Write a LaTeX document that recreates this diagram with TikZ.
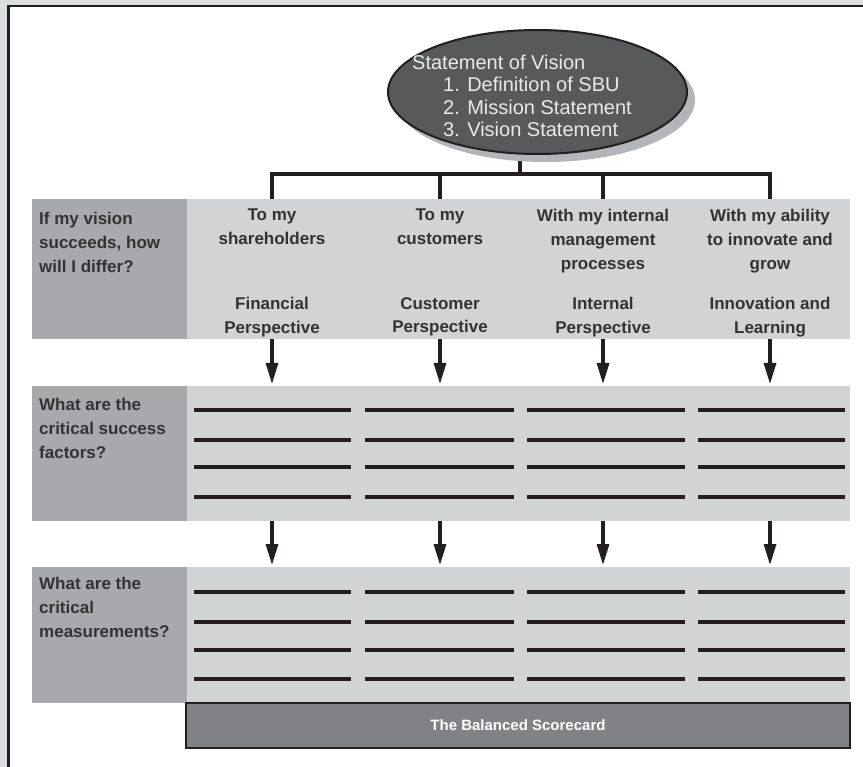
\documentclass[tikz,border=0pt]{standalone}
\usepackage{fontspec}
\setmainfont{Liberation Sans}
\usetikzlibrary{shapes.geometric,shadows,arrows.meta,positioning}

\definecolor{framebg}{HTML}{DCDDDE}
\definecolor{labelgray}{HTML}{A7A9AC}
\definecolor{cellgray}{HTML}{D1D3D4}
\definecolor{bargray}{HTML}{808285}
\definecolor{visiongray}{HTML}{58595B}
\definecolor{shadowgray}{HTML}{B3B5B8}
\definecolor{inkgray}{HTML}{231F20}
\definecolor{textgray}{HTML}{333333}
\definecolor{visiontxt}{HTML}{E8E9EA}

\newcommand\cellfont{\bfseries\fontsize{17}{23.8}\selectfont}

\tikzset{
  labelcell/.style={anchor=north west, fill=labelgray, minimum width=155pt, inner sep=0pt, outer sep=0pt},
  gridcell/.style={anchor=north west, fill=cellgray, minimum width=663pt, inner sep=0pt, outer sep=0pt},
  rowtext/.style={anchor=north west, align=left, font=\cellfont, text=textgray, inner sep=0pt},
  headtext/.style={anchor=north, align=center, font=\cellfont, text=textgray, inner sep=0pt},
  blank/.style={draw=inkgray, line width=3.2pt},
  tree/.style={draw=inkgray, line width=3.2pt},
  flow/.style={draw=inkgray, line width=3.2pt, shorten >=2pt, -{Triangle[length=21pt,width=12pt]}},
}

\begin{document}
\begin{tikzpicture}[x=1pt, y=-1pt]
    \useasboundingbox (0,0) rectangle (863,767);
    \clip (0,0) rectangle (863,767);
    \fill[framebg] (0,0) rectangle (863,767);
    \draw[inkgray, line width=2.8pt, fill=white] (8.7,6) rectangle (890,800);

    % rows
    \node[labelcell, minimum height=140pt] (lab1) at (32,199) {};
    \node[gridcell, minimum height=140pt] (cells1) at (187,199) {};
    \node[labelcell, minimum height=135pt] (lab2) at (32,386) {};
    \node[gridcell, minimum height=135pt] (cells2) at (187,386) {};
    \node[labelcell, minimum height=136pt] (lab3) at (32,567) {};
    \node[gridcell, minimum height=136pt] (cells3) at (187,567) {};

    \foreach \ya in {410,440,467,497,592,622,650,679}
        \foreach \xa/\xb in {194/351,365/514,527/685,698/845}
            \draw[blank] (\xa,\ya) -- (\xb,\ya);

    \node[rowtext] (ask1) at (39,212) {If my vision\\succeeds, how\\will I differ?};
    \node[rowtext] (ask2) at (39,398) {What are the\\critical success\\factors?};
    \node[rowtext] (ask3) at (39,577) {What are the\\critical\\measurements?};

    \node[headtext] (q1) at (272,209) {To my\\shareholders};
    \node[headtext] (q2) at (440,209) {To my\\customers};
    \node[headtext] (q3) at (603,209) {With my internal\\management\\processes};
    \node[headtext] (q4) at (770,209) {With my ability\\to innovate and\\grow};
    \node[headtext] (p1) at (272,297) {Financial\\Perspective};
    \node[headtext] (p2) at (440,297) {Customer\\Perspective};
    \node[headtext] (p3) at (603,297) {Internal\\Perspective};
    \node[headtext] (p4) at (770,297) {Innovation and\\Learning};

    % vision and its tree
    \coordinate (hub) at (520,174);
    \draw[tree] (hub) ++(0,-40) -- (hub);
    \draw[tree] (cells1.north -| q1) |- (hub -| q4) -- (cells1.north -| q4);
    \draw[tree] (hub -| q2) -- (cells1.north -| q2);
    \draw[tree] (hub -| q3) -- (cells1.north -| q3);

    \node[ellipse, minimum width=299pt, minimum height=124pt, inner sep=0pt,
          fill=visiongray, draw=inkgray, line width=2pt,
          drop shadow={shadow xshift=8pt, shadow yshift=-8pt, fill=shadowgray, opacity=1}]
          (vision) at (537.5,92) {};
    \node[anchor=north west, align=left, inner sep=0pt, text=visiontxt,
          font=\fontsize{20}{22.3}\selectfont] (visiontext) at (412,55)
          {Statement of Vision\\
           \hspace*{31pt}1. Definition of SBU\\
           \hspace*{31pt}2. Mission Statement\\
           \hspace*{31pt}3. Vision Statement};

    % arrows down the scorecard
    \foreach \col in {q1,q2,q3,q4} {
        \draw[flow] (cells1.south -| \col) -- (cells2.north -| \col);
        \draw[flow] (cells2.south -| \col) -- (cells3.north -| \col);
    }

    \node[fill=bargray, draw=inkgray, line width=2pt, minimum width=664pt, minimum height=45pt,
          inner sep=0pt, text=white, font=\bfseries\fontsize{15}{18}\selectfont]
          (scorebar) at (518,725.5) {The Balanced Scorecard};
\end{tikzpicture}
\end{document}
